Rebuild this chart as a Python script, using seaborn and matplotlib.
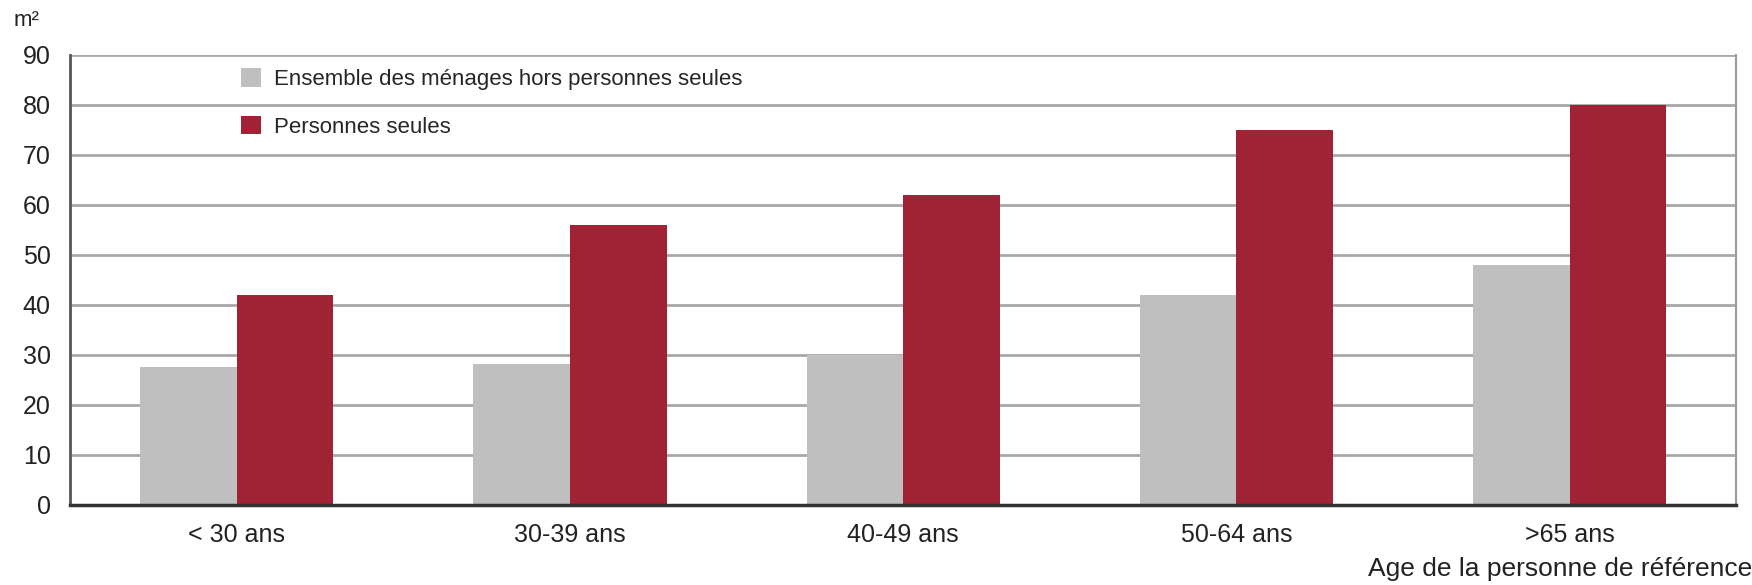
import matplotlib
matplotlib.use("Agg")
import matplotlib.pyplot as plt
import seaborn as sns
import pandas as pd
from matplotlib.patches import Patch

# ==========================================
# DATA
# ==========================================
categories = ["< 30 ans", "30-39 ans", "40-49 ans", "50-64 ans", ">65 ans"]
series_names = ["Ensemble des ménages hors personnes seules", "Personnes seules"]
menages = [27.5, 28.2, 30.0, 42.0, 48.0]
seules = [42.0, 56.0, 62.0, 75.0, 80.0]
yticks = [0, 10, 20, 30, 40, 50, 60, 70, 80, 90]

colors = {series_names[0]: "#BFBFBF", series_names[1]: "#A02335"}

df = pd.DataFrame({
    "age": categories * 2,
    "serie": [series_names[0]] * len(categories) + [series_names[1]] * len(categories),
    "surface": menages + seules,
})

# ==========================================
# PLOT
# ==========================================
sns.set_theme(style="white")
plt.rcParams["font.family"] = ["Liberation Sans Narrow", "Liberation Sans", "DejaVu Sans"]

fig, ax = plt.subplots(figsize=(17.52, 5.85), dpi=100)
fig.subplots_adjust(left=0.040, right=0.991, top=0.906, bottom=0.137)

sns.barplot(data=df, x="age", y="surface", hue="serie", hue_order=series_names,
            order=categories, palette=colors, width=0.58, saturation=1,
            edgecolor="none", linewidth=0, ax=ax, legend=False)

ax.set_ylim(0, 90)
ax.set_xlim(-0.5, 4.5)
ax.set_yticks(yticks)
ax.yaxis.grid(True, color="#A8A8A8", linewidth=2)
ax.set_axisbelow(True)

ax.spines["top"].set_visible(False)
ax.spines["left"].set_color("#555555")
ax.spines["left"].set_linewidth(2)
ax.spines["bottom"].set_color("#333333")
ax.spines["bottom"].set_linewidth(2.5)
ax.spines["right"].set_color("#9A9A9A")
ax.spines["right"].set_linewidth(1.5)

ax.tick_params(axis="both", length=0, labelsize=18, colors="#222222")
ax.tick_params(axis="x", pad=13)
ax.tick_params(axis="y", pad=14)
ax.set_xlabel("")
ax.set_ylabel("")

handles = [Patch(facecolor=colors[s], edgecolor="none") for s in series_names]
leg = ax.legend(handles, series_names, loc="upper left", bbox_to_anchor=(0.097, 0.99),
                frameon=False, fontsize=16, handlelength=0.9, handleheight=0.9,
                labelspacing=1.15, handletextpad=0.6, borderaxespad=0)

fig.text(0.008, 0.965, "m²", fontsize=16, color="#222222", va="center", ha="left")
fig.text(1.0, 0.028, "Age de la personne de référence", fontsize=19,
         color="#222222", va="center", ha="right")

plt.savefig("out.png", dpi=100)
plt.close(fig)
